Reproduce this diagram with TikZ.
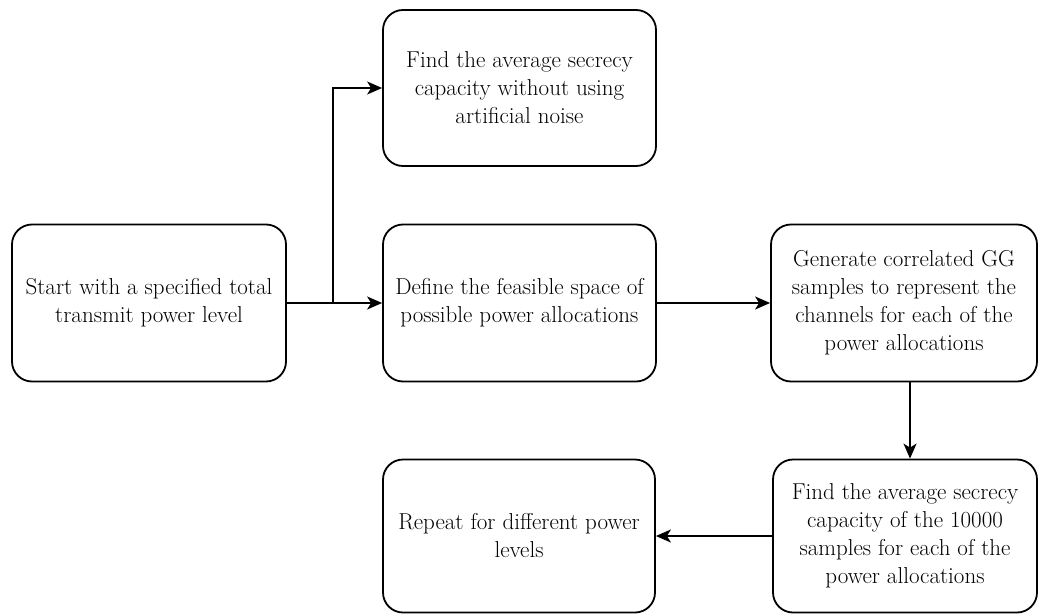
\documentclass[tikz,border=0pt]{standalone}
\usepackage{fontspec}
\setmainfont{Latin Modern Roman}
\usetikzlibrary{arrows.meta}
\begin{document}
\begin{tikzpicture}[x=1pt,y=-1pt,
  box/.style={draw=black,line width=1.8pt,rounded corners=20pt,align=center,
    inner sep=0pt,font=\fontsize{23}{28}\selectfont},
  conn/.style={line width=1.8pt,-{Stealth[length=15pt,width=13pt,inset=4pt]}}]
\useasboundingbox (0,0) rectangle (1040,615);
\node[box,minimum width=274pt,minimum height=157pt] (start) at (149,303)
  {Start with a specified total\\transmit power level};
\node[box,minimum width=273pt,minimum height=156pt] (top) at (519.5,88)
  {Find the average secrecy\\capacity without using\\artificial noise};
\node[box,minimum width=273pt,minimum height=157pt] (define) at (519.5,303)
  {Define the feasible space of\\possible power allocations};
\node[box,minimum width=266pt,minimum height=157pt] (gen) at (904,303)
  {Generate correlated GG\\samples to represent the\\channels for each of the\\power allocations};
\node[box,minimum width=264pt,minimum height=153pt] (find) at (905,536)
  {Find the average secrecy\\capacity of the 10000\\samples for each of the\\power allocations};
\node[box,minimum width=272pt,minimum height=153pt] (repeat) at (519,536)
  {Repeat for different power\\levels};
\coordinate (b) at (333,303);
\draw[conn] (start.east) -- (define.west);
\draw[conn] (b) |- (top.west);
\draw[conn] (define.east) -- (gen.west);
\draw[conn] (gen.south -| 910,0) -- (find.north -| 910,0);
\draw[conn] (find.west) -- (repeat.east);
\end{tikzpicture}
\end{document}
